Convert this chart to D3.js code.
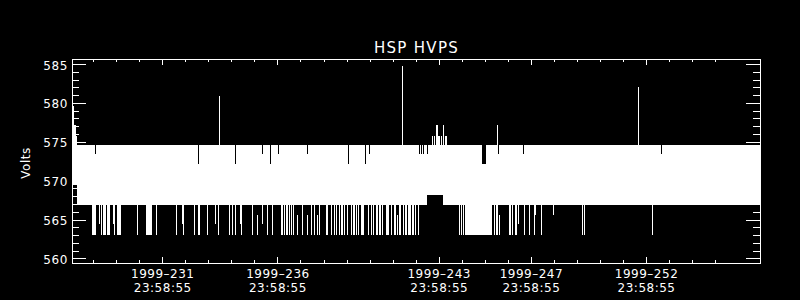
<!DOCTYPE html>
<html>
<head>
<meta charset="utf-8">
<script src="https://cdnjs.cloudflare.com/ajax/libs/d3/7.8.5/d3.min.js"></script>
<style>
body { margin: 0; background: #000; }
svg { display: block; }
text { font-family: "DejaVu Sans", sans-serif; fill: #fff; }
</style>
</head>
<body>
<div id="chart"></div>
<script>
// time in day-of-year 1999, values in volts
var timeRange = [228.081, 257.945];
var voltRange = [559.41, 585.64];

var yMajor = [560, 565, 570, 575, 580, 585];
var yMinor = d3.range(560, 586, 1);
var xMajor = [231.999, 236.999, 243.999, 247.999, 252.999];
var xMinor = d3.range(228.999, 256, 1);
var xLabels = [
  ["1999–231", "23:58:55"],
  ["1999–236", "23:58:55"],
  ["1999–243", "23:58:55"],
  ["1999–247", "23:58:55"],
  ["1999–252", "23:58:55"]
];

// [start, end, low, high] : range the signal swings through
var band = [
  [228.081, 228.29, 569.5, 575.8],
  [228.29, 243.48, 566.9, 574.6],
  [243.48, 244.18, 568.2, 574.6],
  [244.18, 245.17, 566.9, 574.6],
  [245.17, 246.33, 563.0, 574.6],
  [246.33, 257.945, 566.9, 574.6]
];

// [time, low, high] : dips below the band
var drops = [
  [228.96, 563, 566.9], [229.00, 563, 566.9], [229.04, 563, 566.9], [229.08, 563, 566.9],
  [229.25, 564.4, 566.9], [229.35, 563, 566.9],
  [229.43, 563, 566.9], [229.47, 563, 566.9], [229.51, 563, 566.9],
  [229.59, 563, 566.9], [229.64, 563, 566.9], [229.69, 563, 566.9],
  [229.86, 564.4, 566.9], [229.92, 563, 566.9],
  [230.02, 563, 566.9], [230.06, 563, 566.9], [230.10, 563, 566.9], [230.13, 563, 566.9],
  [230.16, 563, 566.9], [230.89, 563, 566.9],
  [231.29, 563, 566.9], [231.33, 563, 566.9], [231.37, 563, 566.9],
  [231.41, 563, 566.9], [231.45, 563, 566.9], [231.49, 563, 566.9],
  [231.74, 563, 566.9], [232.61, 563, 566.9],
  [232.87, 564.4, 566.9], [232.90, 563, 566.9],
  [233.39, 563, 566.9], [233.56, 563, 566.9], [233.60, 563, 566.9],
  [233.94, 563, 566.9], [234.30, 564.4, 566.9], [234.42, 563, 566.9],
  [234.91, 563, 566.9], [235.02, 563, 566.9], [235.17, 563, 566.9],
  [235.37, 564.4, 566.9], [235.43, 563, 566.9], [235.90, 563, 566.9],
  [236.12, 563, 565.6], [236.34, 564.4, 566.9], [236.54, 563, 566.9],
  [236.77, 563, 566.9],
  [237.15, 563, 566.9], [237.19, 563, 566.9], [237.28, 563, 566.9],
  [237.35, 563, 566.9], [237.42, 563, 566.9], [237.50, 563, 566.9],
  [237.60, 563, 566.9], [237.66, 563, 566.9],
  [237.86, 563, 565.6], [238.07, 563, 566.9], [238.29, 563, 565.6],
  [238.44, 563, 566.9], [238.58, 563, 566.9], [238.72, 563, 565.6],
  [238.80, 563, 566.9],
  [239.09, 563, 566.9], [239.16, 563, 566.9], [239.33, 563, 566.9],
  [239.45, 563, 566.9], [239.52, 563, 566.9], [239.67, 563, 566.9],
  [239.74, 563, 566.9], [239.81, 563, 566.9], [239.88, 563, 566.9],
  [240.03, 563, 566.9], [240.17, 563, 566.9],
  [240.29, 563, 566.9], [240.33, 563, 566.9], [240.43, 563, 566.9],
  [240.48, 563, 566.9], [240.62, 563, 566.9], [240.66, 563, 566.9],
  [240.72, 563, 566.9], [240.91, 563, 566.9], [240.95, 563, 566.9],
  [241.04, 563, 566.9], [241.08, 563, 566.9], [241.15, 563, 566.9],
  [241.27, 563, 566.9], [241.31, 563, 566.9], [241.41, 563, 566.9],
  [241.45, 563, 566.9], [241.52, 563, 566.9], [241.71, 563, 566.9],
  [241.75, 563, 566.9], [241.80, 563, 566.9], [241.91, 563, 566.9],
  [242.07, 563, 566.9], [242.10, 563, 566.9], [242.17, 563, 565.6],
  [242.28, 563, 566.9], [242.32, 563, 566.9], [242.43, 563, 566.9],
  [242.53, 563, 566.9], [242.57, 563, 566.9], [242.65, 563, 566.9],
  [242.70, 563, 566.9], [242.75, 563, 566.9], [242.86, 563, 566.9],
  [242.90, 563, 566.9], [242.96, 563, 566.9], [243.08, 563, 566.9],
  [243.12, 563, 566.9],
  [244.22, 566.9, 568.2],
  [244.89, 563, 566.9], [244.96, 563, 566.9], [245.06, 563, 566.9], [245.13, 563, 566.9],
  [246.40, 563, 566.9], [246.48, 563, 566.9], [246.55, 563, 566.9], [246.62, 563, 565.6],
  [247.05, 563, 566.9], [247.11, 563, 566.9], [247.18, 563, 566.9],
  [247.30, 563, 566.9], [247.37, 563, 566.9], [247.44, 564.4, 566.9],
  [247.71, 563, 566.9], [247.92, 563, 566.9],
  [248.14, 563, 566.9], [248.20, 565.6, 566.9], [248.46, 563, 566.9],
  [248.96, 565.6, 566.9],
  [250.22, 563, 566.9], [250.31, 563, 566.9],
  [253.26, 563, 566.9]
];

// [time, peak] : excursions above the band
var spikes = [
  [228.11, 579.6], [228.13, 579.6], [228.17, 577.1], [228.19, 577.1],
  [234.47, 580.9],
  [242.41, 584.7],
  [243.71, 575.8], [243.80, 575.8], [243.87, 577.1], [243.91, 577.1],
  [243.96, 575.8], [244.03, 575.8], [244.10, 575.8], [244.19, 577.1],
  [244.27, 575.8], [244.33, 575.8],
  [246.51, 577.1],
  [252.65, 582.1]
];

// [time, max reached] : columns where the top of the band is not reached
var notches = [
  [229.09, 573.4], [233.56, 572.1], [235.17, 572.1], [236.34, 573.4],
  [236.69, 572.1], [237.03, 573.4], [238.29, 573.4], [240.07, 572.1],
  [240.81, 572.1], [240.98, 573.4],
  [243.15, 573.4], [243.22, 573.4], [243.30, 573.4], [243.51, 573.4],
  [245.88, 572.1], [245.92, 572.1], [245.97, 572.1], [246.00, 572.1],
  [246.58, 573.4], [247.66, 573.4], [253.65, 573.4]
];

var bandTop = 574.6;

var width = 800,
    height = 300,
    mLeft = 72, mRight = 760, mTop = 59, mBottom = 263;

var svg = d3.select("#chart").append("svg")
    .attr("width", width)
    .attr("height", height)
    .style("background", "#000");

var x = d3.scaleLinear().domain(timeRange).range([mLeft, mRight]);
var y = d3.scaleLinear().domain(voltRange).range([mBottom, mTop]);

function px(t) { return Math.round(x(t)) + 0.5; }

var plot = svg.append("g").attr("shape-rendering", "crispEdges");

plot.selectAll(".band")
    .data(band)
    .enter().append("rect")
    .attr("class", "band")
    .attr("x", function(d) { return x(d[0]); })
    .attr("width", function(d) { return x(d[1]) - x(d[0]); })
    .attr("y", function(d) { return y(d[3]); })
    .attr("height", function(d) { return y(d[2]) - y(d[3]); })
    .attr("fill", "#fff");

plot.selectAll(".notch")
    .data(notches)
    .enter().append("line")
    .attr("class", "notch")
    .attr("x1", function(d) { return px(d[0]); })
    .attr("x2", function(d) { return px(d[0]); })
    .attr("y1", y(bandTop))
    .attr("y2", function(d) { return y(d[1]); })
    .attr("stroke", "#000");

plot.selectAll(".drop")
    .data(drops)
    .enter().append("line")
    .attr("class", "drop")
    .attr("x1", function(d) { return px(d[0]); })
    .attr("x2", function(d) { return px(d[0]); })
    .attr("y1", function(d) { return y(d[2]); })
    .attr("y2", function(d) { return y(d[1]); })
    .attr("stroke", "#fff");

plot.selectAll(".spike")
    .data(spikes)
    .enter().append("line")
    .attr("class", "spike")
    .attr("x1", function(d) { return px(d[0]); })
    .attr("x2", function(d) { return px(d[0]); })
    .attr("y1", y(bandTop))
    .attr("y2", function(d) { return y(d[1]); })
    .attr("stroke", "#fff");

// axes, IDL style: ticks pointing inward on all four sides
function noDomain(g) {
  g.select(".domain").remove();
  g.attr("color", "#fff").attr("shape-rendering", "crispEdges");
}

svg.append("g")
    .attr("transform", "translate(" + mLeft + ",0)")
    .call(d3.axisLeft(y).tickValues(yMinor).tickSize(-7).tickFormat(""))
    .call(noDomain);

var yAxis = svg.append("g")
    .attr("transform", "translate(" + mLeft + ",0)")
    .call(d3.axisLeft(y).tickValues(yMajor).tickSize(-14).tickPadding(4).tickFormat(d3.format("d")))
    .call(noDomain);

yAxis.selectAll("text")
    .attr("font-family", "DejaVu Sans")
    .attr("font-size", 12)
    .attr("letter-spacing", 0.6)
    .attr("dy", "0.42em");

svg.append("g")
    .attr("transform", "translate(" + mRight + ",0)")
    .call(d3.axisRight(y).tickValues(yMinor).tickSize(-7).tickFormat(""))
    .call(noDomain);

svg.append("g")
    .attr("transform", "translate(" + mRight + ",0)")
    .call(d3.axisRight(y).tickValues(yMajor).tickSize(-14).tickFormat(""))
    .call(noDomain);

[[d3.axisBottom, mBottom], [d3.axisTop, mTop]].forEach(function(a) {
  svg.append("g")
      .attr("transform", "translate(0," + a[1] + ")")
      .call(a[0](x).tickValues(xMinor).tickSize(-3).tickFormat(""))
      .call(noDomain);
  svg.append("g")
      .attr("transform", "translate(0," + a[1] + ")")
      .call(a[0](x).tickValues(xMajor).tickSize(-6).tickFormat(""))
      .call(noDomain);
});

var xText = svg.append("g").selectAll(".xlabel")
    .data(xMajor)
    .enter().append("text")
    .attr("class", "xlabel")
    .attr("text-anchor", "middle")
    .attr("font-size", 12)
    .attr("letter-spacing", 0.5);

xText.each(function(d, i) {
  var t = d3.select(this);
  t.append("tspan").attr("x", x(d) + 0.5).attr("y", 278).text(xLabels[i][0]);
  t.append("tspan").attr("x", x(d) + 0.5).attr("y", 292).text(xLabels[i][1]);
});

svg.append("rect")
    .attr("x", mLeft + 0.5)
    .attr("y", mTop + 0.5)
    .attr("width", mRight - mLeft)
    .attr("height", mBottom - mTop)
    .attr("fill", "none")
    .attr("stroke", "#fff")
    .attr("shape-rendering", "crispEdges");

svg.append("text")
    .attr("x", (mLeft + mRight) / 2 + 0.5)
    .attr("y", 53)
    .attr("text-anchor", "middle")
    .attr("font-size", 15)
    .attr("letter-spacing", 1.3)
    .text("HSP HVPS");

svg.append("text")
    .attr("transform", "translate(30," + ((mTop + mBottom) / 2 + 2) + ") rotate(-90)")
    .attr("text-anchor", "middle")
    .attr("font-size", 12)
    .attr("letter-spacing", 0.5)
    .text("Volts");
</script>
</body>
</html>
